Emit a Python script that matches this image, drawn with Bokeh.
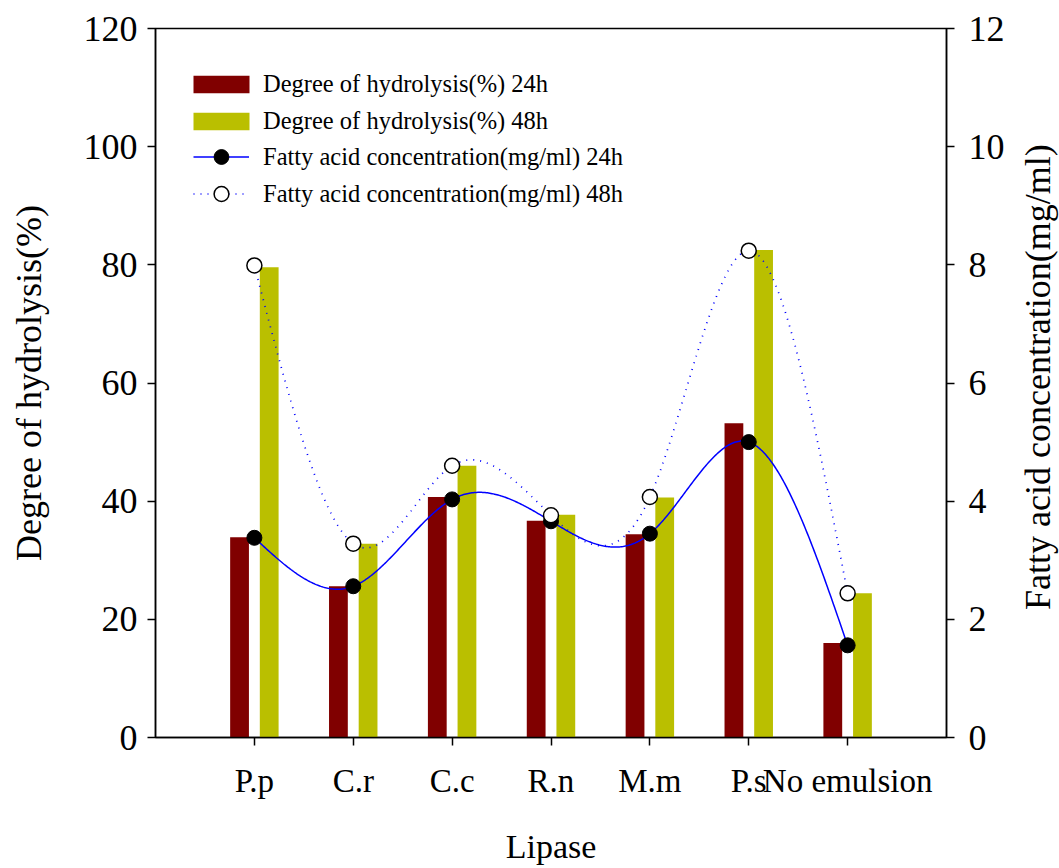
import math
import numpy as np
from bokeh.plotting import figure
from bokeh.layouts import row
from bokeh.models import Range1d, LinearAxis, FixedTicker, Legend, LegendItem
from bokeh.core.properties import value
from bokeh.embed import file_html
from bokeh.resources import INLINE

# Lipase sources on the x axis
lipases = ["P.p", "C.r", "C.c", "R.n", "M.m", "P.s", "No emulsion"]

# Degree of hydrolysis (%) – left axis
hydrolysis_24h = [33.9, 25.6, 40.7, 36.7, 34.4, 53.2, 16.0]
hydrolysis_48h = [79.6, 32.8, 46.0, 37.7, 40.6, 82.5, 24.4]

# Fatty acid concentration (mg/ml) – right axis
fatty_acid_24h = [3.38, 2.56, 4.03, 3.66, 3.45, 5.00, 1.56]
fatty_acid_48h = [7.99, 3.28, 4.60, 3.76, 4.07, 8.24, 2.44]

left_ticks = [0, 20, 40, 60, 80, 100, 120]
right_ticks = [0, 2, 4, 6, 8, 10, 12]

right_title_text = "Fatty acid concentration(mg/ml)"

FONT = "Liberation Serif"
MAROON = "#800000"
OLIVE = "#BABF00"
BLUE = "#0000FF"

TOTAL_W, TOTAL_H = 1059, 868
TITLE_W = 44          # strip on the far right holding the right-hand title
MAIN_W = TOTAL_W - TITLE_W
BORDER_TOP, BORDER_BOTTOM = 28, 131


def natural_spline(xs, ys, n=500):
    """Smooth path through the points (natural cubic spline), used for the line shape."""
    xs = np.asarray(xs, float)
    ys = np.asarray(ys, float)
    k = len(xs)
    h = np.diff(xs)
    A = np.zeros((k, k))
    r = np.zeros(k)
    A[0, 0] = A[-1, -1] = 1.0
    for i in range(1, k - 1):
        A[i, i - 1] = h[i - 1]
        A[i, i] = 2 * (h[i - 1] + h[i])
        A[i, i + 1] = h[i]
        r[i] = 3 * ((ys[i + 1] - ys[i]) / h[i] - (ys[i] - ys[i - 1]) / h[i - 1])
    c = np.linalg.solve(A, r)
    b = np.diff(ys) / h - h * (2 * c[:-1] + c[1:]) / 3
    d = np.diff(c) / (3 * h)
    xx = np.linspace(xs[0], xs[-1], n)
    idx = np.clip(np.searchsorted(xs, xx, side="right") - 1, 0, k - 2)
    dx = xx - xs[idx]
    yy = ys[idx] + b[idx] * dx + c[idx] * dx ** 2 + d[idx] * dx ** 3
    return xx, yy


pos = np.arange(1, len(lipases) + 1)

p = figure(width=MAIN_W, height=TOTAL_H, output_backend="svg", toolbar_location=None,
           x_range=Range1d(0, len(lipases) + 1), y_range=Range1d(0, 120),
           min_border_left=155, min_border_right=MAIN_W - 946,
           min_border_top=BORDER_TOP, min_border_bottom=BORDER_BOTTOM)
p.extra_y_ranges = {"fa": Range1d(0, 12)}
p.grid.visible = False
p.outline_line_color = "black"
p.outline_line_width = 1.5
p.background_fill_color = "white"

# bottom axis
xa = p.xaxis[0]
xa.ticker = FixedTicker(ticks=list(pos))
xa.major_label_overrides = {int(i): name for i, name in zip(pos, lipases)}
xa.axis_label = "Lipase"

# left axis
ya = p.yaxis[0]
ya.ticker = FixedTicker(ticks=left_ticks)
ya.axis_label = "Degree of hydrolysis(%)"

# right axis (its title sits in the narrow strip next to the plot)
ra = LinearAxis(y_range_name="fa", ticker=FixedTicker(ticks=right_ticks))
p.add_layout(ra, "right")

for ax in (xa, ya, ra):
    ax.axis_line_color = "black"
    ax.axis_line_width = 1.5
    ax.major_tick_line_color = "black"
    ax.major_tick_line_width = 1.5
    ax.major_tick_in = 0
    ax.major_tick_out = 8
    ax.minor_tick_line_color = None
    ax.major_label_text_font = FONT
    ax.major_label_text_color = "black"
    ax.axis_label_text_font = FONT
    ax.axis_label_text_font_style = "normal"
    ax.axis_label_text_color = "black"

xa.major_label_text_font_size = "33px"
xa.major_label_standoff = 17
xa.axis_label_text_font_size = "34px"
xa.axis_label_standoff = 26

ya.major_label_text_font_size = "36px"
ya.major_label_standoff = 10
ya.axis_label_text_font_size = "36px"
ya.axis_label_standoff = 32

ra.major_label_text_font_size = "36px"
ra.major_label_standoff = 14

# bars
b24 = p.vbar(x=pos - 0.15, top=hydrolysis_24h, width=0.19, bottom=0,
             fill_color=MAROON, line_color=None)
b48 = p.vbar(x=pos + 0.15, top=hydrolysis_48h, width=0.19, bottom=0,
             fill_color=OLIVE, line_color=None)

# smooth curves
sx24, sy24 = natural_spline(pos, fatty_acid_24h)
sx48, sy48 = natural_spline(pos, fatty_acid_48h)
l24 = p.line(sx24, sy24, y_range_name="fa", line_color=BLUE, line_width=1.5)
l48 = p.line(sx48, sy48, y_range_name="fa", line_color=BLUE, line_width=1.7,
             line_dash="1 6")

m24 = p.scatter(pos, fatty_acid_24h, y_range_name="fa", marker="circle", size=15,
                fill_color="black", line_color="black", line_width=1)
m48 = p.scatter(pos, fatty_acid_48h, y_range_name="fa", marker="circle", size=15,
                fill_color="white", line_color="black", line_width=1.5)

legend_style = dict(padding=0, margin=0, border_line_color=None,
                    background_fill_alpha=0, label_text_font=FONT,
                    label_text_font_size="24.5px", label_text_color="black")

leg_bars = Legend(items=[
    LegendItem(label="Degree of hydrolysis(%) 24h", renderers=[b24]),
    LegendItem(label="Degree of hydrolysis(%) 48h", renderers=[b48]),
], location=(31, 602), glyph_width=70, glyph_height=22, label_standoff=7,
    spacing=9, **legend_style)

leg_lines = Legend(items=[
    LegendItem(label="Fatty acid concentration(mg/ml) 24h", renderers=[l24, m24]),
    LegendItem(label="Fatty acid concentration(mg/ml) 48h", renderers=[l48, m48]),
], location=(38, 525), glyph_width=56, glyph_height=37, label_standoff=14,
    spacing=0, **legend_style)

p.add_layout(leg_bars)
p.add_layout(leg_lines)

# narrow strip with the right-hand title, reading bottom-to-top
t = figure(width=TITLE_W, height=TOTAL_H, output_backend="svg", toolbar_location=None,
           x_range=Range1d(0, 1), y_range=p.y_range,
           min_border_left=0, min_border_right=0,
           min_border_top=BORDER_TOP, min_border_bottom=BORDER_BOTTOM)
t.axis.visible = False
t.grid.visible = False
t.outline_line_color = None
t.text(x=[0.5], y=[(p.y_range.start + p.y_range.end) / 2 + 1], text=[right_title_text],
       angle=math.pi / 2, text_align="center", text_baseline="middle",
       text_font=value(FONT), text_font_size="36px", text_color="black")

layout = row(p, t, spacing=0)

open("out.html", "w").write(file_html(layout, INLINE))
